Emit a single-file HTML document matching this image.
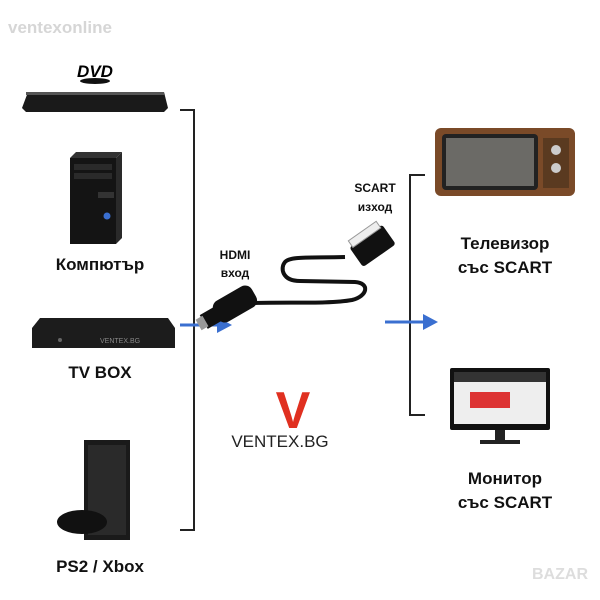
<!DOCTYPE html>
<html><head><meta charset="utf-8"><style>
body{margin:0;width:600px;height:600px;background:#fff;position:relative;overflow:hidden;font-family:"Liberation Sans","DejaVu Sans",sans-serif}
.t{position:absolute;font-weight:bold;color:#111;text-align:center}
</style></head><body>
<div class="t" style="left:8px;top:18px;font-size:17px;color:#d6d6d6;">ventexonline</div>

<svg width="600" height="600" style="position:absolute;left:0;top:0">
<path d="M180 110 H194 V530 H180" stroke="#222" stroke-width="2" fill="none"/>
<path d="M425 175 H410 V415 H425" stroke="#222" stroke-width="2" fill="none"/>
<line x1="180" y1="325" x2="220" y2="325" stroke="#3a6fd0" stroke-width="3"/>
<polygon points="217,317 232,325 217,333" fill="#3a6fd0"/>
<line x1="385" y1="322" x2="425" y2="322" stroke="#3a6fd0" stroke-width="3"/>
<polygon points="423,314 438,322 423,330" fill="#3a6fd0"/>
<!-- DVD -->
<text x="95" y="77" font-size="17" font-weight="bold" font-style="italic" text-anchor="middle" font-family="Liberation Sans">DVD</text>
<ellipse cx="95" cy="81" rx="15" ry="3" fill="#111"/>
<polygon points="28,92 164,92 168,108 164,112 26,112 22,108" fill="#1a1a1a"/>
<rect x="26" y="92" width="138" height="3" fill="#555"/>
<!-- PC tower -->
<polygon points="70,158 76,152 122,152 116,158" fill="#333"/>
<rect x="70" y="158" width="46" height="86" fill="#141414"/>
<polygon points="116,158 122,152 122,238 116,244" fill="#2a2a2a"/>
<rect x="74" y="164" width="38" height="6" fill="#2a2a2a"/>
<rect x="74" y="173" width="38" height="6" fill="#2a2a2a"/>
<rect x="98" y="192" width="16" height="6" fill="#333"/>
<circle cx="107" cy="216" r="3.5" fill="#3a6fd0"/>
<!-- TV box -->
<polygon points="40,318 168,318 175,328 175,348 32,348 32,328" fill="#1c1c1c"/>
<text x="100" y="343" font-size="7" fill="#888" font-family="Liberation Sans">VENTEX.BG</text>
<circle cx="60" cy="340" r="2" fill="#666"/>
<!-- PS2 -->
<rect x="84" y="440" width="46" height="100" fill="#1a1a1a"/>
<rect x="88" y="445" width="38" height="90" fill="#2a2a2a"/>
<ellipse cx="82" cy="522" rx="25" ry="12" fill="#111"/>
<!-- cable -->
<path d="M255 303 C290 302, 330 304, 352 300 C368 296, 370 283, 355 282 L300 281 C282 281, 280 268, 285 262 C290 256, 310 258, 345 257" stroke="#111" stroke-width="4" fill="none"/>
<g transform="rotate(-30 228 308)">
<rect x="214" y="296" width="44" height="24" rx="8" fill="#111"/>
<rect x="200" y="300" width="16" height="16" fill="#111"/>
<rect x="194" y="302" width="8" height="12" fill="#999"/>
</g>
<g transform="rotate(-35 372 245)">
<rect x="352" y="234" width="40" height="24" rx="3" fill="#111"/>
<rect x="355" y="228" width="34" height="8" fill="#eee" stroke="#999"/>
</g>
<!-- V logo -->
<text x="293" y="428" font-size="52" font-weight="bold" fill="#e03020" text-anchor="middle" font-family="Liberation Sans">V</text>
<!-- TV -->
<rect x="435" y="128" width="140" height="68" rx="6" fill="#7a4a28"/>
<rect x="442" y="134" width="96" height="56" rx="4" fill="#222"/>
<rect x="446" y="138" width="88" height="48" fill="#6b6a66"/>
<rect x="543" y="138" width="26" height="50" fill="#5a3a20"/>
<circle cx="556" cy="150" r="5" fill="#ccc"/><circle cx="556" cy="168" r="5" fill="#ccc"/>
<!-- Monitor -->
<rect x="450" y="368" width="100" height="62" rx="2" fill="#111"/>
<rect x="454" y="372" width="92" height="52" fill="#eee"/>
<rect x="454" y="372" width="92" height="10" fill="#333"/>
<rect x="470" y="392" width="40" height="16" fill="#d33"/>
<rect x="495" y="430" width="10" height="10" fill="#222"/>
<rect x="480" y="440" width="40" height="4" fill="#222"/>
</svg>

<div class="t" style="left:30px;top:255px;width:140px;font-size:17px">Компютър</div>
<div class="t" style="left:30px;top:363px;width:140px;font-size:17px">TV BOX</div>
<div class="t" style="left:30px;top:557px;width:140px;font-size:17px">PS2 / Xbox</div>
<div class="t" style="left:205px;top:246px;width:60px;font-size:12px;line-height:18px">HDMI<br>вход</div>
<div class="t" style="left:345px;top:179px;width:60px;font-size:12px;line-height:19px">SCART<br>изход</div>
<div class="t" style="left:225px;top:432px;width:110px;font-size:17px;font-weight:normal;color:#222">VENTEX.BG</div>
<div class="t" style="left:430px;top:232px;width:150px;font-size:17px;line-height:24px">Телевизор<br>със SCART</div>
<div class="t" style="left:430px;top:467px;width:150px;font-size:17px;line-height:24px">Монитор<br>със SCART</div>
<div class="t" style="left:520px;top:566px;width:80px;font-size:16px;color:#ddd">BAZAR</div>
</body></html>
